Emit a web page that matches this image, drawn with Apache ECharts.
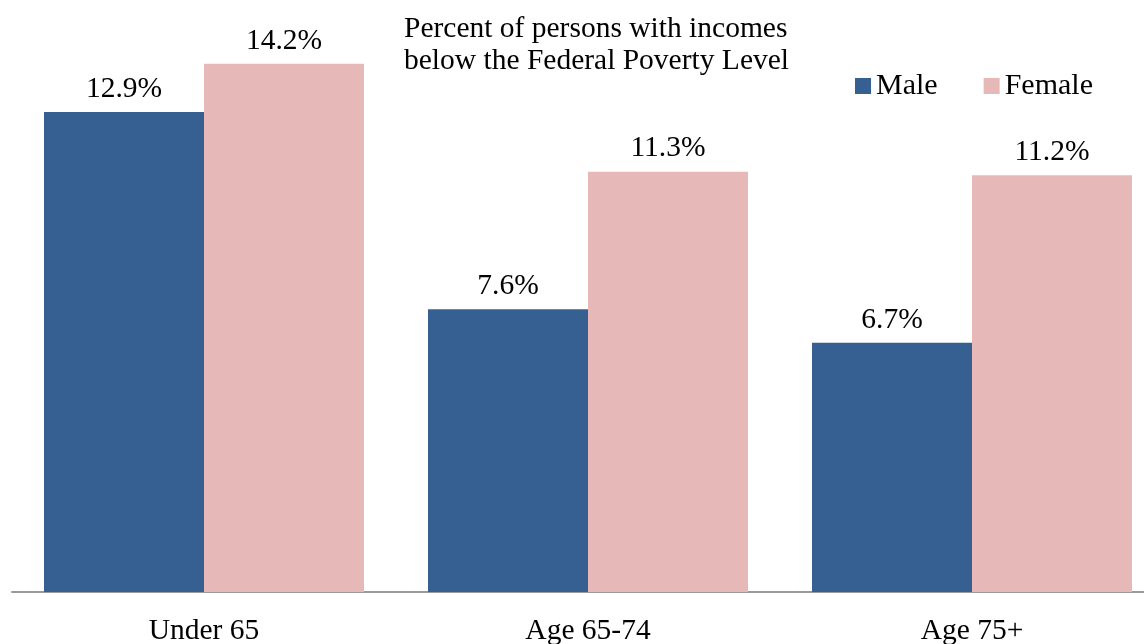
<!DOCTYPE html>
<html>
<head>
<meta charset="utf-8">
<script src="https://cdn.jsdelivr.net/npm/echarts@6/dist/echarts.min.js"></script>
<style>
  html, body { margin: 0; padding: 0; background: #fff; }
  #chart { width: 1144px; height: 644px; }
</style>
</head>
<body>
<div id="chart"></div>
<script>
// poverty rates by age group and sex
const categories = ['Under 65', 'Age 65-74', 'Age 75+']
const maleValues = [12.9, 7.6, 6.7]
const femaleValues = [14.2, 11.3, 11.2]

const font = 'Liberation Serif, Times New Roman, serif'
const chart = echarts.init(document.getElementById('chart'))

const labelStyle = {
  show: true,
  position: 'top',
  distance: 8,
  fontFamily: font,
  fontSize: 29.5,
  color: '#000',
  formatter: p => p.value.toFixed(1) + '%'
}

chart.setOption({
  animation: false,
  title: {
    text: 'Percent of persons with incomes\nbelow the Federal Poverty Level',
    left: 404,
    top: 13,
    padding: 0,
    textStyle: {
      fontFamily: font,
      fontSize: 29.5,
      fontWeight: 'normal',
      lineHeight: 32,
      color: '#000'
    }
  },
  legend: {
    left: 855,
    top: 71,
    padding: 0,
    itemWidth: 16,
    itemHeight: 16,
    itemGap: 46,
    icon: 'rect',
    textStyle: {
      fontFamily: font,
      fontSize: 30,
      color: '#000'
    },
    data: ['Male', 'Female']
  },
  // grid runs past the right edge so the last group sits like the original
  grid: {
    left: 12,
    width: 1152,
    top: 34,
    bottom: 52,
    outerBoundsMode: 'none'
  },
  xAxis: {
    type: 'category',
    data: categories,
    axisLine: {
      lineStyle: { color: '#999', width: 2 }
    },
    axisTick: { show: false },
    axisLabel: {
      margin: 24,
      fontFamily: font,
      fontSize: 29.5,
      color: '#000'
    }
  },
  yAxis: {
    type: 'value',
    min: 0,
    max: 15,
    show: false,
    splitLine: { show: false }
  },
  series: [
    {
      name: 'Male',
      type: 'bar',
      data: maleValues,
      barWidth: 160,
      barGap: 0,
      itemStyle: { color: '#376092' },
      label: labelStyle
    },
    {
      name: 'Female',
      type: 'bar',
      data: femaleValues,
      barWidth: 160,
      barGap: 0,
      itemStyle: { color: '#E6B9B8' },
      label: labelStyle
    }
  ]
})
</script>
</body>
</html>
